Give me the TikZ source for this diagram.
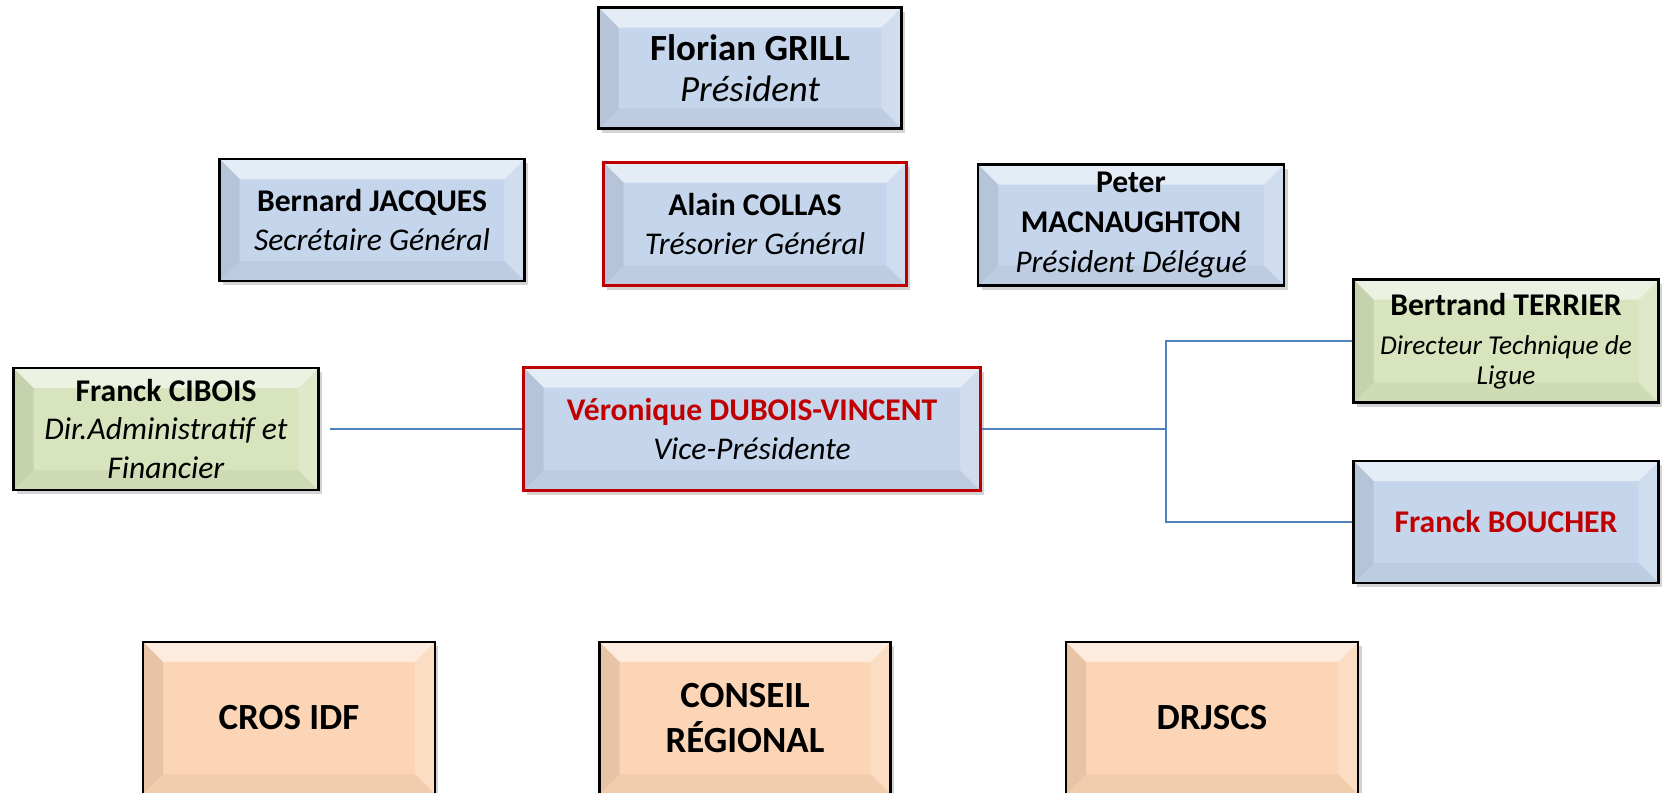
\documentclass[tikz,border=0pt]{standalone}
\usepackage{fontspec}
\setmainfont{Carlito}
\usepackage{tikz}
\usetikzlibrary{shadows,positioning}
\definecolor{bleuface}{RGB}{197,213,235}
\definecolor{vertface}{RGB}{215,228,189}
\definecolor{peche}{RGB}{251,213,181}
\definecolor{rouge}{RGB}{192,0,0}
\definecolor{lienbleu}{RGB}{79,129,189}
\newcommand{\bv}{0.4cm}
\newcommand{\ppb}{path picture bounding box}

\begin{document}
\begin{tikzpicture}
[x=0.02cm,y=-0.02cm,
bevel/.style={path picture={
\fill[white,opacity=.55] (\ppb.north west) -- (\ppb.north east) -- ([xshift=-\bv,yshift=-\bv]\ppb.north east) -- ([xshift=\bv,yshift=-\bv]\ppb.north west) -- cycle;
\fill[black,opacity=.08] (\ppb.north west) -- ([xshift=\bv,yshift=-\bv]\ppb.north west) -- ([xshift=\bv,yshift=\bv]\ppb.south west) -- (\ppb.south west) -- cycle;
\fill[black,opacity=.04] (\ppb.south west) -- ([xshift=\bv,yshift=\bv]\ppb.south west) -- ([xshift=-\bv,yshift=\bv]\ppb.south east) -- (\ppb.south east) -- cycle;
\fill[white,opacity=.2] (\ppb.north east) -- ([xshift=-\bv,yshift=-\bv]\ppb.north east) -- ([xshift=-\bv,yshift=\bv]\ppb.south east) -- (\ppb.south east) -- cycle;
}},
poste/.style={draw=black,line width=1.2pt,fill=bleuface,bevel,align=center,inner sep=0pt,
drop shadow={shadow xshift=2pt,shadow yshift=-2.5pt,opacity=.35},
font=\fontsize{18}{22}\selectfont},
taille/.style 2 args={minimum width=#1,minimum height=#2},
rougebord/.style={draw=rouge},
vert/.style={fill=vertface},
organisme/.style={poste,fill=peche,font=\fontsize{21}{26}\selectfont\bfseries},
lien/.style={draw=lienbleu,line width=0.8pt}]
\useasboundingbox (0,0) rectangle (1662,793);

\node (grill) [poste,taille={6.06cm}{2.42cm},font=\fontsize{21}{23}\selectfont] at (750,68)
{\textbf{Florian GRILL}\\\textit{Président}};
\node (jacques) [poste,taille={6.1cm}{2.44cm}] at (372,220)
{\textbf{Bernard JACQUES}\\\textit{Secrétaire Général}};
\node (collas) [poste,rougebord,taille={6.06cm}{2.46cm}] at (755,224)
{\textbf{Alain COLLAS}\\\textit{Trésorier Général}};
\node (macnaughton) [poste,taille={6.12cm}{2.42cm},font=\fontsize{18}{23}\selectfont] at (1131,225)
{\textbf{Peter}\\\textbf{MACNAUGHTON}\\\textit{Président Délégué}};

\node (cibois) [poste,vert,taille={6.1cm}{2.44cm}] at (166,429)
{\textbf{Franck CIBOIS}\\\textit{Dir.Administratif et}\\\textit{Financier}};
\node (dubois) [poste,rougebord,taille={9.14cm}{2.46cm}] at (752,429)
{\textcolor{rouge}{\textbf{Véronique DUBOIS-VINCENT}}\\\textit{Vice-Présidente}};
\node (terrier) [poste,vert,taille={6.1cm}{2.46cm}] at (1506,341)
{\textbf{Bertrand TERRIER}\\{\fontsize{15.5}{17}\selectfont\itshape Directeur Technique de}\\[-5pt]{\fontsize{15.5}{17}\selectfont\itshape Ligue}};
\node (boucher) [poste,taille={6.1cm}{2.44cm}] at (1506,522)
{\textcolor{rouge}{\textbf{Franck BOUCHER}}};

\node (cros) [organisme,taille={5.84cm}{3.04cm}] at (289,718) {CROS IDF};
\node (conseil) [organisme,taille={5.82cm}{3.04cm}] at (745,718) {CONSEIL\\RÉGIONAL};
\node (drjscs) [organisme,taille={5.84cm}{3.04cm}] at (1212,718) {DRJSCS};

\coordinate (fourche) at (1166,429);
\draw [lien,shorten <=0.2cm] (cibois.east) -- (dubois.west);
\draw [lien] (dubois.east) -- (fourche);
\draw [lien] (fourche) |- (terrier.west);
\draw [lien] (fourche) |- (boucher.west);
\end{tikzpicture}
\end{document}
